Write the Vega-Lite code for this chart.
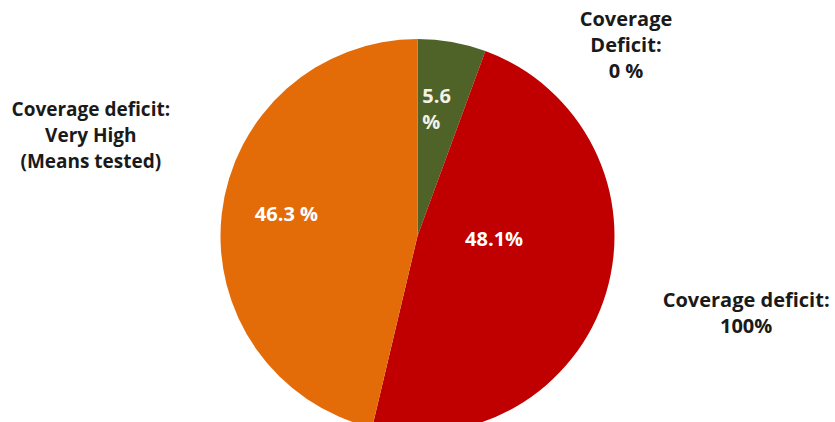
{
  "$schema": "https://vega.github.io/schema/vega-lite/v6.json",
  "width": 835,
  "height": 372,
  "autosize": "none",
  "padding": {"left": 0, "right": 0, "top": 50, "bottom": 0},
  "background": "white",
  "view": {"stroke": null},
  "config": {"text": {"font": "Open Sans", "fontWeight": "bold", "lineBreak": "\n"}},
  "data": {
    "values": [
      {"rank": 1, "segment": "Coverage Deficit: 0 %", "share": 5.6, "inner": "5.6\n%", "outer": "Coverage\nDeficit:\n0 %"},
      {"rank": 2, "segment": "Coverage deficit: 100%", "share": 48.1, "inner": "48.1%", "outer": "Coverage deficit:\n100%"},
      {"rank": 3, "segment": "Coverage deficit: Very High (Means tested)", "share": 46.3, "inner": "46.3 %", "outer": "Coverage deficit:\nVery High\n(Means tested)"}
    ]
  },
  "encoding": {
    "theta": {"field": "share", "type": "quantitative", "stack": true},
    "order": {"field": "rank", "type": "ordinal"},
    "color": {
      "field": "segment",
      "type": "nominal",
      "scale": {
        "domain": ["Coverage Deficit: 0 %", "Coverage deficit: 100%", "Coverage deficit: Very High (Means tested)"],
        "range": ["#4F6228", "#C00000", "#E36C09"]
      },
      "legend": null
    }
  },
  "layer": [
    {"mark": {"type": "arc", "outerRadius": 197}},
    {
      "mark": {"type": "text", "radius": 130, "dx": -18, "dy": -11, "align": "left", "fontSize": 20, "lineHeight": 26},
      "encoding": {"color": {"value": "#f2f2e6"}, "text": {"condition": {"test": "datum.rank === 1", "field": "inner", "type": "nominal"}, "value": ""}}
    },
    {
      "mark": {"type": "text", "radius": 80, "dy": -19, "fontSize": 20},
      "encoding": {"color": {"value": "white"}, "text": {"condition": {"test": "datum.rank === 2", "field": "inner", "type": "nominal"}, "value": ""}}
    },
    {
      "mark": {"type": "text", "radius": 135, "dx": 3, "dy": -5, "fontSize": 20},
      "encoding": {"color": {"value": "white"}, "text": {"condition": {"test": "datum.rank === 3", "field": "inner", "type": "nominal"}, "value": ""}}
    },
    {
      "mark": {"type": "text", "radius": 197, "dx": 174, "dy": -22, "fontSize": 20, "lineHeight": 26},
      "encoding": {"color": {"value": "#1a1a1a"}, "text": {"condition": {"test": "datum.rank === 1", "field": "outer", "type": "nominal"}, "value": ""}}
    },
    {
      "mark": {"type": "text", "radius": 197, "dx": 140, "dy": 8, "fontSize": 20, "lineHeight": 26},
      "encoding": {"color": {"value": "#1a1a1a"}, "text": {"condition": {"test": "datum.rank === 2", "field": "outer", "type": "nominal"}, "value": ""}}
    },
    {
      "mark": {"type": "text", "radius": 197, "dx": -131, "dy": -103, "fontSize": 19, "lineHeight": 26},
      "encoding": {"color": {"value": "#1a1a1a"}, "text": {"condition": {"test": "datum.rank === 3", "field": "outer", "type": "nominal"}, "value": ""}}
    }
  ]
}
